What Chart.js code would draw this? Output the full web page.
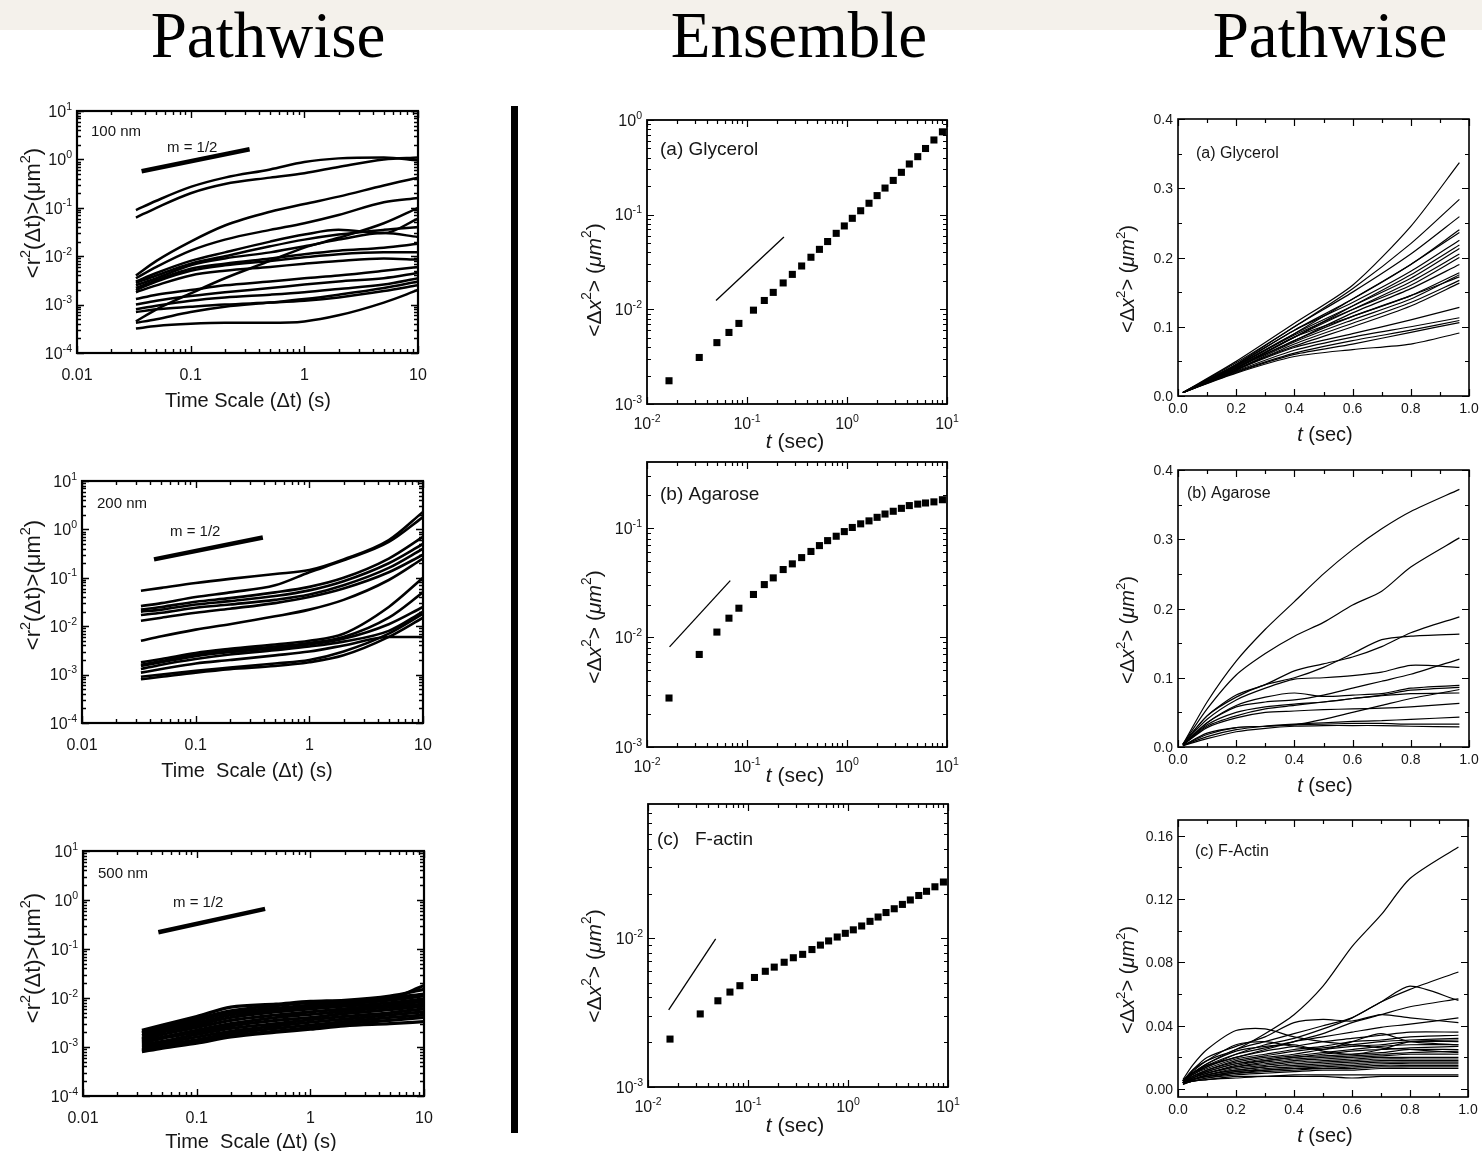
<!DOCTYPE html>
<html lang="en">
<head>
<meta charset="UTF-8">
<title>Pathwise vs Ensemble MSD</title>
<script src="https://cdn.jsdelivr.net/npm/chart.js@4.4.0/dist/chart.umd.min.js"></script>
<style>
    body {
        margin: 0;
        width: 1482px;
        height: 1151px;
        overflow: hidden;
        position: relative;
        background: #fff;
    }
    .band {
        position: absolute; left: 0; top: 0;
        width: 1482px; height: 30px;
        background: #f4f1eb;
    }
    .head {
        position: absolute; top: 0;
        font-family: 'Liberation Serif', 'Times New Roman', serif;
        font-size: 65px; line-height: 70px;
        color: #000; white-space: nowrap;
        transform: translateX(-50%);
    }
    .divider {
        position: absolute; left: 511px; top: 106px;
        width: 7px; height: 1027px; background: #000;
    }
    canvas { position: absolute; }
</style>
</head>
<body>
<div class="band"></div>
<div class="head" style="left:268px">Pathwise</div>
<div class="head" style="left:799px">Ensemble</div>
<div class="head" style="left:1330px">Pathwise</div>
<div class="divider"></div>

<script>
// ---------- data ----------
// pathwise MSD, log-log (time lags in s)
const tPath = [0.033, 0.05, 0.1, 0.2, 0.5, 1, 2, 5, 10];

const msd100nm = [
    [0.09, 0.14, 0.27, 0.42, 0.62, 0.88, 1.05, 1.1, 0.95],
    [0.063, 0.1, 0.2, 0.31, 0.42, 0.52, 0.7, 1.0, 1.1],
    [0.004, 0.008, 0.02, 0.043, 0.083, 0.12, 0.17, 0.29, 0.42],
    [0.0035, 0.006, 0.013, 0.022, 0.035, 0.048, 0.071, 0.13, 0.16],
    [0.00045, 0.0008, 0.0017, 0.0035, 0.008, 0.015, 0.024, 0.048, 0.1],
    [0.003, 0.0045, 0.008, 0.012, 0.02, 0.028, 0.035, 0.03, 0.06],
    [0.0028, 0.004, 0.007, 0.01, 0.016, 0.022, 0.028, 0.035, 0.04],
    [0.0025, 0.0035, 0.0065, 0.009, 0.012, 0.016, 0.022, 0.03, 0.025],
    [0.0022, 0.0032, 0.0055, 0.007, 0.009, 0.011, 0.013, 0.015, 0.018],
    [0.002, 0.003, 0.005, 0.0065, 0.008, 0.0095, 0.011, 0.012, 0.012],
    [0.0018, 0.0025, 0.004, 0.005, 0.006, 0.007, 0.008, 0.009, 0.0085],
    [0.0013, 0.0016, 0.002, 0.0025, 0.003, 0.0035, 0.004, 0.005, 0.006],
    [0.001, 0.0012, 0.0015, 0.0018, 0.0022, 0.0026, 0.003, 0.0035, 0.0045],
    [0.0008, 0.00095, 0.0012, 0.0014, 0.0016, 0.0018, 0.0021, 0.0026, 0.0035],
    [0.0007, 0.0008, 0.0009, 0.001, 0.0011, 0.0012, 0.0014, 0.0019, 0.0025],
    [0.00042, 0.0005, 0.0007, 0.0009, 0.0011, 0.0013, 0.0016, 0.0022, 0.003],
    [0.00032, 0.00036, 0.0004, 0.00042, 0.00042, 0.00045, 0.0006, 0.0011, 0.002]
];
const msd200nm = [
    [0.054, 0.062, 0.078, 0.095, 0.12, 0.145, 0.24, 0.6, 2.3],
    [0.026, 0.03, 0.04, 0.05, 0.07, 0.13, 0.23, 0.55, 1.8],
    [0.022, 0.025, 0.032, 0.038, 0.05, 0.065, 0.1, 0.25, 0.7],
    [0.02, 0.022, 0.028, 0.033, 0.042, 0.055, 0.085, 0.2, 0.5],
    [0.017, 0.019, 0.024, 0.028, 0.035, 0.045, 0.07, 0.16, 0.4],
    [0.013, 0.015, 0.019, 0.023, 0.03, 0.04, 0.06, 0.13, 0.3],
    [0.005, 0.0062, 0.0085, 0.011, 0.016, 0.022, 0.035, 0.09, 0.25],
    [0.0018, 0.0021, 0.0028, 0.0034, 0.0042, 0.005, 0.007, 0.025, 0.1],
    [0.0016, 0.0019, 0.0026, 0.0031, 0.0038, 0.0045, 0.006, 0.015, 0.05],
    [0.0015, 0.0018, 0.0024, 0.0029, 0.0035, 0.0042, 0.0055, 0.011, 0.025],
    [0.0013, 0.0016, 0.0021, 0.0026, 0.0032, 0.0038, 0.0048, 0.008, 0.02],
    [0.0011, 0.0013, 0.0017, 0.002, 0.0025, 0.003, 0.004, 0.006, 0.006],
    [0.0009, 0.001, 0.0012, 0.0014, 0.0017, 0.002, 0.003, 0.007, 0.018],
    [0.0008, 0.0009, 0.0011, 0.0013, 0.0015, 0.0018, 0.0025, 0.006, 0.015]
];
const msd500nm = [
    [0.0022, 0.0028, 0.0042, 0.0065, 0.0075, 0.0085, 0.009, 0.011, 0.015],
    [0.002, 0.0026, 0.0038, 0.0055, 0.007, 0.008, 0.0085, 0.01, 0.012],
    [0.0019, 0.0024, 0.0035, 0.005, 0.0062, 0.0072, 0.008, 0.0095, 0.018],
    [0.0017, 0.0022, 0.0031, 0.0045, 0.0058, 0.0066, 0.0075, 0.009, 0.011],
    [0.0015, 0.002, 0.0028, 0.004, 0.0052, 0.006, 0.0068, 0.008, 0.0095],
    [0.0014, 0.0018, 0.0025, 0.0035, 0.0045, 0.0052, 0.006, 0.0072, 0.0085],
    [0.0013, 0.0016, 0.0022, 0.003, 0.004, 0.0046, 0.0054, 0.0065, 0.0075],
    [0.0012, 0.0015, 0.002, 0.0027, 0.0035, 0.004, 0.0048, 0.0058, 0.0068],
    [0.0011, 0.0013, 0.0018, 0.0024, 0.003, 0.0036, 0.0042, 0.005, 0.006],
    [0.001, 0.0012, 0.0016, 0.0021, 0.0027, 0.0032, 0.0037, 0.0045, 0.0052],
    [0.0009, 0.0011, 0.0014, 0.0019, 0.0024, 0.0028, 0.0033, 0.004, 0.0045],
    [0.00085, 0.001, 0.0013, 0.0017, 0.0021, 0.0025, 0.003, 0.0035, 0.004],
    [0.0008, 0.00095, 0.0012, 0.0016, 0.002, 0.0023, 0.0027, 0.003, 0.0033]
];
// m = 1/2 guide lines
const slope100T = [0.037, 0.33], slope100V = [0.57, 1.62];
const slope200T = [0.043, 0.39], slope200V = [0.24, 0.68];
const slope500T = [0.046, 0.40], slope500V = [0.22, 0.66];

// ensemble MSD (squares)
const tEns = [0.0166, 0.0333, 0.05, 0.066, 0.083, 0.116, 0.149, 0.183, 0.23, 0.284, 0.352, 0.436, 0.53, 0.64,
              0.78, 0.94, 1.13, 1.37, 1.66, 2.0, 2.4, 2.9, 3.5, 4.2, 5.1, 6.1, 7.4, 9.0];
const glycerolEns = [0.00176, 0.0031, 0.00445, 0.0057, 0.0071, 0.0098, 0.0124, 0.0151, 0.019, 0.0234, 0.0287, 0.0355,
                     0.043, 0.052, 0.0635, 0.076, 0.0915, 0.11, 0.132, 0.159, 0.191, 0.23, 0.28, 0.343, 0.41, 0.5, 0.615, 0.75];
const agaroseEns = [0.0028, 0.0070, 0.0112, 0.015, 0.0185, 0.0247, 0.0304, 0.035, 0.0417, 0.047, 0.0536, 0.061,
                    0.069, 0.0766, 0.084, 0.0926, 0.101, 0.109, 0.116, 0.125, 0.134, 0.142, 0.151, 0.16, 0.165, 0.169, 0.173, 0.181];
const actinEns = [0.0021, 0.0031, 0.0038, 0.00435, 0.0048, 0.00545, 0.006, 0.0064, 0.0069, 0.0074, 0.0078, 0.0084,
                  0.009, 0.0096, 0.0102, 0.0108, 0.0114, 0.0121, 0.013, 0.0139, 0.0149, 0.0158, 0.0169, 0.0181, 0.0194, 0.0207, 0.0222, 0.0239];
// slope-1 guide lines
const glycerolRefT = [0.049, 0.234], glycerolRefV = [0.0124, 0.058];
const agaroseRefT = [0.0168, 0.068], agaroseRefV = [0.0082, 0.033];
const actinRefT = [0.0161, 0.0475], actinRefV = [0.0033, 0.0099];

// pathwise MSD, linear axes
const tGly = [0.017, 0.2, 0.4, 0.6, 0.8, 0.967];
const glycerolPath = [
    [0.005, 0.05, 0.105, 0.16, 0.245, 0.337],
    [0.005, 0.048, 0.1, 0.155, 0.22, 0.284],
    [0.005, 0.046, 0.1, 0.15, 0.205, 0.259],
    [0.005, 0.045, 0.095, 0.14, 0.19, 0.240],
    [0.005, 0.043, 0.09, 0.14, 0.19, 0.236],
    [0.005, 0.045, 0.095, 0.135, 0.18, 0.225],
    [0.005, 0.042, 0.085, 0.13, 0.175, 0.218],
    [0.005, 0.044, 0.09, 0.13, 0.17, 0.213],
    [0.005, 0.04, 0.085, 0.125, 0.165, 0.205],
    [0.005, 0.043, 0.088, 0.125, 0.16, 0.2],
    [0.005, 0.04, 0.08, 0.12, 0.155, 0.19],
    [0.005, 0.04, 0.085, 0.115, 0.145, 0.178],
    [0.005, 0.038, 0.078, 0.11, 0.14, 0.175],
    [0.005, 0.041, 0.08, 0.115, 0.145, 0.172],
    [0.005, 0.037, 0.075, 0.105, 0.135, 0.167],
    [0.005, 0.039, 0.072, 0.1, 0.13, 0.163],
    [0.005, 0.038, 0.07, 0.09, 0.11, 0.128],
    [0.005, 0.036, 0.066, 0.085, 0.1, 0.113],
    [0.005, 0.035, 0.062, 0.08, 0.095, 0.109],
    [0.005, 0.034, 0.06, 0.075, 0.092, 0.106],
    [0.005, 0.033, 0.057, 0.067, 0.075, 0.091]
];
const tAga = [0.017, 0.1, 0.2, 0.3, 0.4, 0.5, 0.6, 0.7, 0.8, 0.967];
const agarosePath = [
    [0.004, 0.065, 0.124, 0.17, 0.21, 0.25, 0.285, 0.315, 0.34, 0.372],
    [0.004, 0.055, 0.104, 0.135, 0.16, 0.18, 0.205, 0.225, 0.26, 0.302],
    [0.004, 0.045, 0.075, 0.09, 0.11, 0.12, 0.13, 0.145, 0.165, 0.188],
    [0.004, 0.045, 0.072, 0.09, 0.1, 0.115, 0.135, 0.155, 0.16, 0.163],
    [0.004, 0.04, 0.068, 0.085, 0.098, 0.1, 0.103, 0.108, 0.118, 0.115],
    [0.003, 0.035, 0.058, 0.065, 0.068, 0.075, 0.085, 0.095, 0.105, 0.127],
    [0.003, 0.035, 0.06, 0.072, 0.078, 0.073, 0.075, 0.077, 0.085, 0.089],
    [0.003, 0.032, 0.05, 0.058, 0.062, 0.065, 0.07, 0.075, 0.082, 0.086],
    [0.003, 0.03, 0.045, 0.055, 0.06, 0.065, 0.07, 0.074, 0.077, 0.078],
    [0.003, 0.028, 0.042, 0.05, 0.052, 0.054, 0.055, 0.056, 0.058, 0.063],
    [0.002, 0.02, 0.028, 0.03, 0.032, 0.04, 0.05, 0.06, 0.07, 0.083],
    [0.002, 0.015, 0.025, 0.03, 0.033, 0.035, 0.037, 0.038, 0.04, 0.043],
    [0.002, 0.018, 0.028, 0.03, 0.032, 0.033, 0.034, 0.034, 0.033, 0.033],
    [0.002, 0.012, 0.022, 0.027, 0.03, 0.031, 0.031, 0.031, 0.03, 0.029]
];
const tAct = [0.017, 0.05, 0.1, 0.2, 0.3, 0.4, 0.5, 0.6, 0.7, 0.8, 0.967];
const actinPath = [
    [0.005, 0.012, 0.018, 0.025, 0.035, 0.047, 0.065, 0.09, 0.11, 0.133, 0.153],
    [0.006, 0.015, 0.025, 0.037, 0.038, 0.033, 0.03, 0.028, 0.026, 0.025, 0.023],
    [0.005, 0.01, 0.016, 0.025, 0.03, 0.035, 0.04, 0.045, 0.055, 0.063, 0.074],
    [0.005, 0.01, 0.014, 0.022, 0.028, 0.032, 0.038, 0.045, 0.055, 0.065, 0.056],
    [0.005, 0.01, 0.015, 0.02, 0.025, 0.03, 0.035, 0.042, 0.047, 0.052, 0.057],
    [0.005, 0.012, 0.02, 0.027, 0.033, 0.042, 0.044, 0.043, 0.047, 0.045, 0.042],
    [0.005, 0.01, 0.015, 0.022, 0.026, 0.03, 0.033, 0.036, 0.039, 0.041, 0.045],
    [0.005, 0.009, 0.014, 0.02, 0.024, 0.027, 0.03, 0.032, 0.034, 0.036, 0.036],
    [0.004, 0.009, 0.013, 0.019, 0.022, 0.025, 0.027, 0.03, 0.031, 0.033, 0.034],
    [0.004, 0.008, 0.012, 0.018, 0.021, 0.024, 0.026, 0.028, 0.03, 0.031, 0.032],
    [0.004, 0.008, 0.012, 0.017, 0.02, 0.022, 0.025, 0.027, 0.028, 0.03, 0.03],
    [0.004, 0.008, 0.011, 0.016, 0.019, 0.021, 0.023, 0.025, 0.027, 0.028, 0.028],
    [0.004, 0.007, 0.011, 0.016, 0.018, 0.02, 0.022, 0.024, 0.025, 0.026, 0.027],
    [0.004, 0.007, 0.01, 0.015, 0.018, 0.02, 0.021, 0.022, 0.023, 0.025, 0.025],
    [0.004, 0.007, 0.01, 0.014, 0.017, 0.019, 0.02, 0.021, 0.022, 0.023, 0.024],
    [0.004, 0.007, 0.01, 0.014, 0.016, 0.018, 0.019, 0.02, 0.021, 0.022, 0.022],
    [0.004, 0.006, 0.009, 0.013, 0.015, 0.017, 0.018, 0.019, 0.02, 0.02, 0.02],
    [0.004, 0.006, 0.009, 0.012, 0.014, 0.016, 0.017, 0.018, 0.019, 0.019, 0.019],
    [0.004, 0.006, 0.009, 0.012, 0.014, 0.015, 0.016, 0.017, 0.018, 0.018, 0.018],
    [0.004, 0.006, 0.008, 0.011, 0.013, 0.014, 0.015, 0.016, 0.017, 0.017, 0.017],
    [0.004, 0.006, 0.008, 0.011, 0.012, 0.013, 0.014, 0.015, 0.016, 0.016, 0.016],
    [0.004, 0.006, 0.008, 0.01, 0.012, 0.013, 0.013, 0.014, 0.015, 0.015, 0.015],
    [0.004, 0.005, 0.007, 0.01, 0.011, 0.012, 0.013, 0.013, 0.014, 0.014, 0.014],
    [0.004, 0.005, 0.007, 0.009, 0.01, 0.011, 0.012, 0.012, 0.013, 0.013, 0.013],
    [0.003, 0.005, 0.006, 0.008, 0.008, 0.009, 0.009, 0.009, 0.009, 0.009, 0.009],
    [0.003, 0.005, 0.006, 0.007, 0.008, 0.008, 0.008, 0.007, 0.008, 0.008, 0.008],
    [0.005, 0.011, 0.018, 0.028, 0.03, 0.027, 0.025, 0.03, 0.035, 0.03, 0.028],
    [0.005, 0.01, 0.016, 0.024, 0.027, 0.028, 0.024, 0.022, 0.025, 0.03, 0.031]
];

// tick labels
const pathXTicks = [0.01, 0.1, 1, 10];
const pathXLabels = ['0.01', '0.1', '1', '10'];
const pathYTicks = [1e-4, 1e-3, 1e-2, 1e-1, 1, 10];
const pathYExp = ['-4', '-3', '-2', '-1', '0', '1'];
const ensXTicks = [0.01, 0.1, 1, 10];
const ensXExp = ['-2', '-1', '0', '1'];
const glyYTicks = [1e-3, 1e-2, 1e-1, 1];
const glyYExp = ['-3', '-2', '-1', '0'];
const agaYTicks = [1e-3, 1e-2, 1e-1];
const agaYExp = ['-3', '-2', '-1'];
const actYTicks = [1e-3, 1e-2];
const actYExp = ['-3', '-2'];
const linXTicks = [0, 0.2, 0.4, 0.6, 0.8, 1.0];
const linXLabels = ['0.0', '0.2', '0.4', '0.6', '0.8', '1.0'];
const linYTicks = [0, 0.1, 0.2, 0.3, 0.4];
const linYLabels = ['0.0', '0.1', '0.2', '0.3', '0.4'];
const actLinYTicks = [0, 0.04, 0.08, 0.12, 0.16];
const actLinYLabels = ['0.00', '0.04', '0.08', '0.12', '0.16'];

// ---------- helpers ----------
const FAM = "'Liberation Sans', Arial, sans-serif";
const series = (ts, vs) => ts.map((t, i) => ({ x: t, y: vs[i] }));
const pow10 = exps => exps.map(e => [['10'], [e, 'sup']]);
const plain = labels => labels.map(s => [[s]]);

function logMinor(min, max) {
    const out = [];
    for (let d = Math.floor(Math.log10(min)); d <= Math.ceil(Math.log10(max)); d++) {
        for (let k = 2; k <= 9; k++) {
            const v = k * Math.pow(10, d);
            if (v > min * 1.0001 && v < max * 0.9999) out.push(v);
        }
    }
    return out;
}
function linSteps(min, max, step) {
    const out = [];
    for (let i = Math.ceil(min / step - 1e-9); i * step <= max + 1e-9; i++) out.push(+(i * step).toFixed(6));
    return out;
}

function drawParts(ctx, parts, x, y, size, align, rotate) {
    ctx.save();
    ctx.translate(x, y);
    if (rotate) ctx.rotate(-Math.PI / 2);
    const fonts = parts.map(p => (p[1] === 'i' ? 'italic ' : '') + (p[1] === 'sup' ? size * 0.66 : size) + 'px ' + FAM);
    let w = 0;
    const ws = parts.map((p, i) => { ctx.font = fonts[i]; const m = ctx.measureText(p[0]).width; w += m; return m; });
    let cx = align === 'left' ? 0 : align === 'right' ? -w : -w / 2;
    const base = size * 0.36;
    ctx.textAlign = 'left';
    ctx.textBaseline = 'alphabetic';
    ctx.fillStyle = '#161616';
    parts.forEach((p, i) => {
        ctx.font = fonts[i];
        ctx.fillText(p[0], cx, p[1] === 'sup' ? base - size * 0.45 : base);
        cx += ws[i];
    });
    ctx.restore();
}

// frame, inward ticks and all text of a panel
const framePlugin = {
    id: 'frame',
    afterDraw(chart, args, o) {
        const ctx = chart.ctx, a = chart.chartArea;
        const xs = chart.scales.x, ys = chart.scales.y;
        ctx.save();
        ctx.strokeStyle = '#000';
        ctx.lineWidth = o.tickWidth;
        ctx.beginPath();
        const xt = (v, len) => { const p = Math.round(xs.getPixelForValue(v)) + 0.5;
            ctx.moveTo(p, a.bottom); ctx.lineTo(p, a.bottom - len); ctx.moveTo(p, a.top); ctx.lineTo(p, a.top + len); };
        const yt = (v, len) => { const p = Math.round(ys.getPixelForValue(v)) + 0.5;
            ctx.moveTo(a.left, p); ctx.lineTo(a.left + len, p); ctx.moveTo(a.right, p); ctx.lineTo(a.right - len, p); };
        o.xMinor.forEach(v => xt(v, 4));
        o.yMinor.forEach(v => yt(v, 4));
        o.xMajor.forEach(v => xt(v, 7));
        o.yMajor.forEach(v => yt(v, 7));
        ctx.stroke();
        ctx.lineWidth = o.boxWidth;
        ctx.strokeRect(a.left, a.top, a.right - a.left, a.bottom - a.top);
        ctx.restore();

        o.xMajor.forEach((v, i) => drawParts(ctx, o.xLabels[i], xs.getPixelForValue(v), a.bottom + o.xLabelDy, o.tickSize, 'center'));
        o.yMajor.forEach((v, i) => drawParts(ctx, o.yLabels[i], a.left - o.yLabelDx, ys.getPixelForValue(v), o.tickSize, 'right'));
        const ox = o.origin[0], oy = o.origin[1];
        drawParts(ctx, o.xTitle.s, o.xTitle.x - ox, o.xTitle.y - oy, o.xTitle.size, 'center');
        drawParts(ctx, o.yTitle.s, o.yTitle.x - ox, o.yTitle.y - oy, o.yTitle.size, 'center', true);
        o.notes.forEach(n => drawParts(ctx, n.s, n.x - ox, n.y - oy, n.size, 'left'));
    }
};

const PAD = { left: 80, top: 25, right: 25, bottom: 62 };

function buildPanel(p) {
    const [l, t, r, b] = p.box;
    const canvas = document.createElement('canvas');
    const cl = l - PAD.left, ct = t - PAD.top;
    canvas.width = (r - l) + PAD.left + PAD.right;
    canvas.height = (b - t) + PAD.top + PAD.bottom;
    canvas.style.left = cl + 'px';
    canvas.style.top = ct + 'px';
    canvas.style.width = canvas.width + 'px';
    canvas.style.height = canvas.height + 'px';
    document.body.appendChild(canvas);
    p.frame.origin = [cl, ct];
    new Chart(canvas.getContext('2d'), {
        type: 'line',
        data: { datasets: p.datasets },
        options: {
            responsive: false,
            animation: false,
            devicePixelRatio: 1,
            layout: { padding: PAD, autoPadding: false },
            plugins: { legend: { display: false }, tooltip: { enabled: false }, frame: p.frame },
            scales: {
                x: Object.assign({ display: false }, p.x),
                y: Object.assign({ display: false }, p.y)
            }
        },
        plugins: [framePlugin]
    });
}

const rTitle = [['<r'], ['2', 'sup'], ['(\u0394t)>(\u03bcm'], ['2', 'sup'], [')']];
const dxTitle = [['<\u0394'], ['x', 'i'], ['2', 'sup'], ['> ('], ['\u03bcm', 'i'], ['2', 'sup'], [')']];
const tTitle = [['t', 'i'], [' (sec)']];

const pathLines = (curves, sT, sV, w) => curves.map(v => ({
    data: series(tPath, v), borderColor: '#000', borderWidth: w, pointRadius: 0,
    cubicInterpolationMode: 'monotone', fill: false
})).concat([{ data: series(sT, sV), borderColor: '#000', borderWidth: 4.5, pointRadius: 0, fill: false }]);

const ensMarks = (vals, rT, rV) => [
    { data: series(tEns, vals), showLine: false, pointStyle: 'rect', pointRadius: 5,
      pointBackgroundColor: '#000', pointBorderColor: '#000', pointBorderWidth: 0 },
    { data: series(rT, rV), borderColor: '#000', borderWidth: 1.3, pointRadius: 0, fill: false }
];

const linLines = (ts, curves) => curves.map(v => ({
    data: series(ts, v), borderColor: '#000', borderWidth: 1.2, pointRadius: 0, tension: 0.25, fill: false
}));

const logX = { type: 'logarithmic', min: 0.01, max: 10 };
const linX = { type: 'linear', min: 0, max: 1 };

function pathFrame(yTitleY, xTitleY, xTitleX, notes, xTitleText) {
    return {
        xMajor: pathXTicks, xLabels: plain(pathXLabels), xMinor: logMinor(0.01, 10),
        yMajor: pathYTicks, yLabels: pow10(pathYExp), yMinor: logMinor(1e-4, 10),
        tickWidth: 1.4, boxWidth: 2.2, tickSize: 16, xLabelDy: 21, yLabelDx: 5,
        xTitle: { s: [[xTitleText]], x: xTitleX, y: xTitleY, size: 20 },
        yTitle: { s: rTitle, x: 32, y: yTitleY, size: 22 },
        notes: notes
    };
}
function ensFrame(yMajor, yExp, yMin, yMax, yTitleY, xTitleY, notes) {
    return {
        xMajor: ensXTicks, xLabels: pow10(ensXExp), xMinor: logMinor(0.01, 10),
        yMajor: yMajor, yLabels: pow10(yExp), yMinor: logMinor(yMin, yMax),
        tickWidth: 1.2, boxWidth: 1.8, tickSize: 16, xLabelDy: 19, yLabelDx: 5,
        xTitle: { s: tTitle, x: 795, y: xTitleY, size: 21 },
        yTitle: { s: dxTitle, x: 593, y: yTitleY, size: 21 },
        notes: notes
    };
}
function linFrame(yMajor, yLabels, yMinor, yTitleY, xTitleY, notes) {
    return {
        xMajor: linXTicks, xLabels: plain(linXLabels), xMinor: linSteps(0, 1, 0.1),
        yMajor: yMajor, yLabels: plain(yLabels), yMinor: yMinor,
        tickWidth: 1.2, boxWidth: 1.6, tickSize: 14, xLabelDy: 12, yLabelDx: 5,
        xTitle: { s: tTitle, x: 1325, y: xTitleY, size: 20 },
        yTitle: { s: dxTitle, x: 1127, y: yTitleY, size: 20 },
        notes: notes
    };
}

const panels = [
    { box: [77, 111, 418, 353], x: logX, y: { type: 'logarithmic', min: 1e-4, max: 10 },
      datasets: pathLines(msd100nm, slope100T, slope100V, 2.5),
      frame: pathFrame(213, 400, 248, [
          { s: [['100 nm']], x: 91, y: 131, size: 15 },
          { s: [['m = 1/2']], x: 167, y: 147, size: 15 }], 'Time Scale (\u0394t) (s)') },
    { box: [82, 481, 423, 723], x: logX, y: { type: 'logarithmic', min: 1e-4, max: 10 },
      datasets: pathLines(msd200nm, slope200T, slope200V, 2.6),
      frame: pathFrame(585, 770, 247, [
          { s: [['200 nm']], x: 97, y: 503, size: 15 },
          { s: [['m = 1/2']], x: 170, y: 531, size: 15 }], 'Time  Scale (\u0394t) (s)') },
    { box: [83, 851, 424, 1096], x: logX, y: { type: 'logarithmic', min: 1e-4, max: 10 },
      datasets: pathLines(msd500nm, slope500T, slope500V, 3.2),
      frame: pathFrame(958, 1141, 251, [
          { s: [['500 nm']], x: 98, y: 873, size: 15 },
          { s: [['m = 1/2']], x: 173, y: 902, size: 15 }], 'Time  Scale (\u0394t) (s)') },

    { box: [647, 120, 947, 404], x: logX, y: { type: 'logarithmic', min: 1e-3, max: 1 },
      datasets: ensMarks(glycerolEns, glycerolRefT, glycerolRefV),
      frame: ensFrame(glyYTicks, glyYExp, 1e-3, 1, 280, 440, [
          { s: [['(a) Glycerol']], x: 660, y: 148, size: 19 }]) },
    { box: [647, 462, 947, 747], x: logX, y: { type: 'logarithmic', min: 1e-3, max: 0.4 },
      datasets: ensMarks(agaroseEns, agaroseRefT, agaroseRefV),
      frame: ensFrame(agaYTicks, agaYExp, 1e-3, 0.4, 627, 774, [
          { s: [['(b) Agarose']], x: 660, y: 493, size: 19 }]) },
    { box: [648, 804, 948, 1087], x: logX, y: { type: 'logarithmic', min: 1e-3, max: 0.08 },
      datasets: ensMarks(actinEns, actinRefT, actinRefV),
      frame: ensFrame(actYTicks, actYExp, 1e-3, 0.08, 966, 1124, [
          { s: [['(c)   F-actin']], x: 657, y: 838, size: 19 }]) },

    { box: [1178, 119, 1469, 396], x: linX, y: { type: 'linear', min: 0, max: 0.4 },
      datasets: linLines(tGly, glycerolPath),
      frame: linFrame(linYTicks, linYLabels, linSteps(0, 0.4, 0.05), 279, 434, [
          { s: [['(a) Glycerol']], x: 1196, y: 152, size: 16 }]) },
    { box: [1178, 470, 1469, 747], x: linX, y: { type: 'linear', min: 0, max: 0.4 },
      datasets: linLines(tAga, agarosePath),
      frame: linFrame(linYTicks, linYLabels, linSteps(0, 0.4, 0.05), 630, 785, [
          { s: [['(b) Agarose']], x: 1187, y: 492, size: 16 }]) },
    { box: [1178, 820, 1468, 1097], x: linX, y: { type: 'linear', min: -0.005, max: 0.17 },
      datasets: linLines(tAct, actinPath),
      frame: linFrame(actLinYTicks, actLinYLabels, linSteps(0, 0.17, 0.02), 980, 1135, [
          { s: [['(c) F-Actin']], x: 1195, y: 850, size: 16 }]) }
];

panels.forEach(buildPanel);
</script>
</body>
</html>
